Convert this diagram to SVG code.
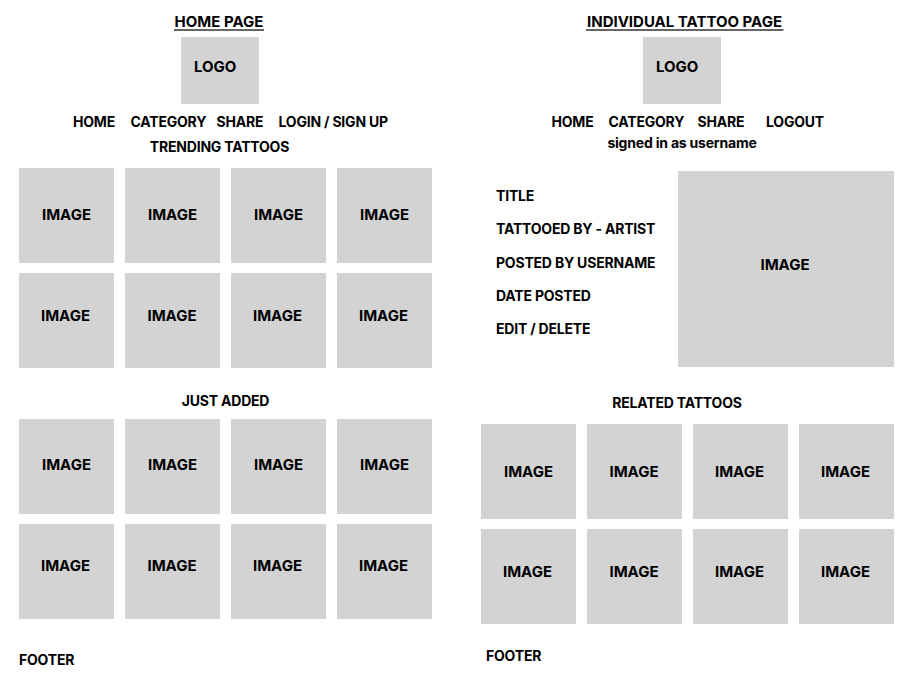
<svg xmlns="http://www.w3.org/2000/svg" width="912" height="679" viewBox="0 0 912 679">
<style>
text{font-family:Inter,"Noto Sans","Liberation Sans",sans-serif;font-weight:700;fill:#000;}
.t{font-size:15px;}
.n{font-size:14px;letter-spacing:-0.2px;}
.img{font-size:15px;text-anchor:middle;}
.box{fill:#d3d3d3;}
.c{text-anchor:middle;}
.ul{stroke:#333;stroke-width:1.5;}
</style>
<rect width="912" height="679" fill="#fff"/>
<!-- HOME PAGE -->
<g id="home-header">
<text class="t c" x="219" y="26.5">HOME PAGE</text>
<line class="ul" x1="174" y1="30" x2="264" y2="30"/>
</g>
<g id="home-logo">
<rect class="box" x="181" y="37" width="78" height="67"/>
<text class="t" x="194" y="71.5">LOGO</text>
</g>
<g id="home-nav">
<text class="n" x="73" y="126.5">HOME</text>
<text class="n" x="130.5" y="126.5">CATEGORY</text>
<text class="n" x="216.5" y="126.5">SHARE</text>
<text class="n" x="278.5" y="126.5">LOGIN / SIGN UP</text>
</g>
<text id="trending" class="n c" x="219.5" y="151.5">TRENDING TATTOOS</text>
<g id="trending-grid">
<rect class="box" x="19" y="168" width="95" height="95"/><text class="img" x="66.5" y="219.5">IMAGE</text>
<rect class="box" x="125" y="168" width="95" height="95"/><text class="img" x="172.5" y="219.5">IMAGE</text>
<rect class="box" x="231" y="168" width="95" height="95"/><text class="img" x="278.5" y="219.5">IMAGE</text>
<rect class="box" x="337" y="168" width="95" height="95"/><text class="img" x="384.5" y="219.5">IMAGE</text>
<rect class="box" x="19" y="273" width="95" height="95"/><text class="img" x="65.5" y="320.5">IMAGE</text>
<rect class="box" x="125" y="273" width="95" height="95"/><text class="img" x="172" y="320.5">IMAGE</text>
<rect class="box" x="231" y="273" width="95" height="95"/><text class="img" x="277.5" y="320.5">IMAGE</text>
<rect class="box" x="337" y="273" width="95" height="95"/><text class="img" x="383.5" y="320.5">IMAGE</text>
</g>
<text id="just-added" class="n c" x="225.5" y="405.5">JUST ADDED</text>
<g id="just-added-grid">
<rect class="box" x="19" y="419" width="95" height="95"/><text class="img" x="66.5" y="470">IMAGE</text>
<rect class="box" x="125" y="419" width="95" height="95"/><text class="img" x="172.5" y="470">IMAGE</text>
<rect class="box" x="231" y="419" width="95" height="95"/><text class="img" x="278.5" y="470">IMAGE</text>
<rect class="box" x="337" y="419" width="95" height="95"/><text class="img" x="384.5" y="470">IMAGE</text>
<rect class="box" x="19" y="524" width="95" height="95"/><text class="img" x="65.5" y="571">IMAGE</text>
<rect class="box" x="125" y="524" width="95" height="95"/><text class="img" x="172" y="571">IMAGE</text>
<rect class="box" x="231" y="524" width="95" height="95"/><text class="img" x="277.5" y="571">IMAGE</text>
<rect class="box" x="337" y="524" width="95" height="95"/><text class="img" x="383.5" y="571">IMAGE</text>
</g>
<text id="home-footer" class="n" x="19" y="665">FOOTER</text>
<!-- INDIVIDUAL TATTOO PAGE -->
<g id="tattoo-header">
<text class="t c" x="684.5" y="26.5">INDIVIDUAL TATTOO PAGE</text>
<line class="ul" x1="586" y1="30" x2="783.5" y2="30"/>
</g>
<g id="tattoo-logo">
<rect class="box" x="643" y="37" width="78" height="67"/>
<text class="t" x="656" y="71.5">LOGO</text>
</g>
<g id="tattoo-nav">
<text class="n" x="551.5" y="126.5">HOME</text>
<text class="n" x="608.5" y="126.5">CATEGORY</text>
<text class="n" x="697.5" y="126.5">SHARE</text>
<text class="n" x="766" y="126.5">LOGOUT</text>
<text class="n c" x="682" y="147.5">signed in as username</text>
</g>
<g id="tattoo-details">
<text class="n" x="496" y="201">TITLE</text>
<text class="n" x="496" y="234.3">TATTOOED BY - ARTIST</text>
<text class="n" x="496" y="267.7">POSTED BY USERNAME</text>
<text class="n" x="496" y="301">DATE POSTED</text>
<text class="n" x="496" y="334.3">EDIT / DELETE</text>
</g>
<g id="tattoo-image">
<rect class="box" x="678" y="171" width="216" height="196"/>
<text class="img" x="785" y="269.5">IMAGE</text>
</g>
<text id="related" class="n c" x="677" y="407.5">RELATED TATTOOS</text>
<g id="related-grid">
<rect class="box" x="481" y="424" width="95" height="95"/><text class="img" x="528.5" y="476.5">IMAGE</text>
<rect class="box" x="587" y="424" width="95" height="95"/><text class="img" x="634" y="476.5">IMAGE</text>
<rect class="box" x="693" y="424" width="95" height="95"/><text class="img" x="739.5" y="476.5">IMAGE</text>
<rect class="box" x="799" y="424" width="95" height="95"/><text class="img" x="845.5" y="476.5">IMAGE</text>
<rect class="box" x="481" y="529" width="95" height="95"/><text class="img" x="527.5" y="576.5">IMAGE</text>
<rect class="box" x="587" y="529" width="95" height="95"/><text class="img" x="634" y="576.5">IMAGE</text>
<rect class="box" x="693" y="529" width="95" height="95"/><text class="img" x="739.5" y="576.5">IMAGE</text>
<rect class="box" x="799" y="529" width="95" height="95"/><text class="img" x="845.5" y="576.5">IMAGE</text>
</g>
<text id="tattoo-footer" class="n" x="486" y="660.5">FOOTER</text>
</svg>
